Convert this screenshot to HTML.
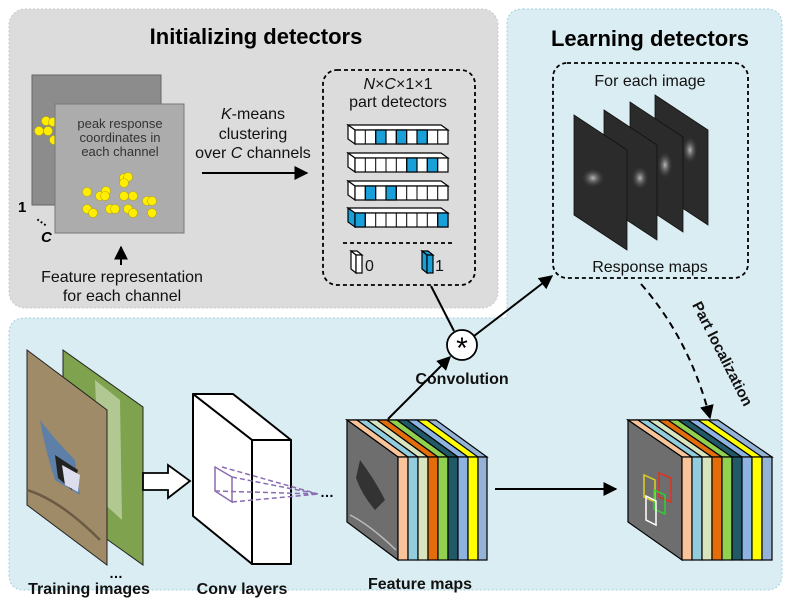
<!DOCTYPE html>
<html><head><meta charset="utf-8"><style>
html,body{margin:0;padding:0;background:#fff;}
svg{display:block;font-family:"Liberation Sans",sans-serif;}
</style></head><body>
<svg width="787" height="605" viewBox="0 0 787 605" xmlns="http://www.w3.org/2000/svg">
<defs>
<marker id="ah" viewBox="0 0 10 10" refX="9" refY="5" markerWidth="7" markerHeight="7" orient="auto"><path d="M0,0 L10,5 L0,10 z" fill="#000"/></marker>
<radialGradient id="glow" cx="0.5" cy="0.5" r="0.5"><stop offset="0" stop-color="#bbb"/><stop offset="1" stop-color="#2a2a2a" stop-opacity="0"/></radialGradient>
</defs>
<!-- grey box -->
<rect x="9" y="9" width="489" height="299" rx="16" fill="#dcdcdc" stroke="#c8c8c8" stroke-dasharray="2,2"/>
<!-- blue L box -->
<path d="M523,9 H766 Q782,9 782,25 V574 Q782,590 766,590 H25 Q9,590 9,574 V334 Q9,318 25,318 H507 V25 Q507,9 523,9 Z" fill="#daedf2" stroke="#9fd0e0" stroke-dasharray="2,2"/>

<text x="256" y="44" font-size="22" font-weight="bold" text-anchor="middle">Initializing detectors</text>
<text x="650" y="46" font-size="22" font-weight="bold" text-anchor="middle">Learning detectors</text>

<!-- channel panels -->
<rect x="32" y="75" width="129" height="130" fill="#8c8c8c" stroke="#666"/>
<g fill="#ffee00" stroke="#b8a800" stroke-width="0.6">
<circle cx="46" cy="121" r="4.5"/><circle cx="53" cy="122" r="4.5"/><circle cx="39" cy="131" r="4.5"/><circle cx="48" cy="131" r="4.5"/><circle cx="54" cy="140" r="4.5"/>
</g>
<rect x="55" y="104" width="129" height="129" fill="#acacac" stroke="#777"/>
<text font-size="13" fill="#333" text-anchor="middle"><tspan x="120" y="128">peak response</tspan><tspan x="120" y="142">coordinates in</tspan><tspan x="120" y="156">each channel</tspan></text>
<g fill="#ffee00" stroke="#b8a800" stroke-width="0.6">
<circle cx="124" cy="178" r="4.5"/><circle cx="128" cy="177" r="4.5"/><circle cx="124" cy="183" r="4.5"/>
<circle cx="87" cy="192" r="4.5"/><circle cx="100" cy="196" r="4.5"/><circle cx="106" cy="191" r="4.5"/><circle cx="105" cy="196" r="4.5"/>
<circle cx="124" cy="196" r="4.5"/><circle cx="133" cy="196" r="4.5"/><circle cx="147" cy="201" r="4.5"/><circle cx="152" cy="201" r="4.5"/>
<circle cx="87" cy="209" r="4.5"/><circle cx="93" cy="213" r="4.5"/><circle cx="110" cy="209" r="4.5"/><circle cx="115" cy="209" r="4.5"/>
<circle cx="128" cy="209" r="4.5"/><circle cx="133" cy="213" r="4.5"/><circle cx="152" cy="213" r="4.5"/>
</g>
<text x="18" y="212" font-size="15" font-weight="bold">1</text>
<text x="36" y="222" font-size="13" font-weight="bold" transform="rotate(35 40 220)">…</text>
<text x="41" y="242" font-size="15" font-weight="bold" font-style="italic">C</text>
<line x1="121" y1="265" x2="121" y2="247" stroke="#000" stroke-width="2" marker-end="url(#ah)"/>
<text font-size="16" text-anchor="middle" fill="#111"><tspan x="122" y="282">Feature representation</tspan><tspan x="122" y="301">for each channel</tspan></text>

<text font-size="16" text-anchor="middle" fill="#111"><tspan x="253" y="119"><tspan font-style="italic">K</tspan>-means</tspan><tspan x="253" y="139">clustering</tspan><tspan x="253" y="158">over <tspan font-style="italic">C</tspan> channels</tspan></text>
<line x1="202" y1="173" x2="307" y2="173" stroke="#000" stroke-width="2" marker-end="url(#ah)"/>

<!-- part detector box -->
<rect x="323" y="70" width="152" height="215" rx="14" fill="none" stroke="#000" stroke-width="1.8" stroke-dasharray="4,3"/>
<text font-size="16" text-anchor="middle" fill="#111"><tspan x="398" y="89"><tspan font-style="italic">N</tspan>×<tspan font-style="italic">C</tspan>×1×1</tspan><tspan x="398" y="107">part detectors</tspan></text>
<g stroke="#000" stroke-width="1.2">
<!-- row 1 y0=130 -->
<polygon points="348,125 441,125 448,130 355,130" fill="#fff"/>
<polygon points="348,125 355,130 355,144 348,139" fill="#fff"/>
<rect x="355" y="130" width="93" height="14" fill="#fff"/>
<rect x="375.7" y="130" width="10.3" height="14" fill="#1aa0d8"/><rect x="396.3" y="130" width="10.3" height="14" fill="#1aa0d8"/><rect x="417" y="130" width="10.3" height="14" fill="#1aa0d8"/>
<!-- row 2 y0=158 -->
<polygon points="348,153 441,153 448,158 355,158" fill="#fff"/>
<polygon points="348,153 355,158 355,172 348,167" fill="#fff"/>
<rect x="355" y="158" width="93" height="14" fill="#fff"/>
<rect x="406.7" y="158" width="10.3" height="14" fill="#1aa0d8"/><rect x="427.3" y="158" width="10.3" height="14" fill="#1aa0d8"/>
<!-- row 3 y0=186 -->
<polygon points="348,181 441,181 448,186 355,186" fill="#fff"/>
<polygon points="348,181 355,186 355,200 348,195" fill="#fff"/>
<rect x="355" y="186" width="93" height="14" fill="#fff"/>
<rect x="365.3" y="186" width="10.3" height="14" fill="#1aa0d8"/><rect x="386" y="186" width="10.3" height="14" fill="#1aa0d8"/>
<!-- row 4 y0=213 -->
<polygon points="348,208 441,208 448,213 355,213" fill="#fff"/>
<polygon points="348,208 355,213 355,227 348,222" fill="#1aa0d8"/>
<rect x="355" y="213" width="93" height="14" fill="#fff"/>
<rect x="355" y="213" width="10.3" height="14" fill="#1aa0d8"/><rect x="437.7" y="213" width="10.3" height="14" fill="#1aa0d8"/>
</g>
<g stroke="#000" stroke-width="1">
<path d="M365.3,130V144M375.7,130V144M386,130V144M396.3,130V144M406.7,130V144M417,130V144M427.3,130V144M437.7,130V144"/>
<path d="M365.3,158V172M375.7,158V172M386,158V172M396.3,158V172M406.7,158V172M417,158V172M427.3,158V172M437.7,158V172"/>
<path d="M365.3,186V200M375.7,186V200M386,186V200M396.3,186V200M406.7,186V200M417,186V200M427.3,186V200M437.7,186V200"/>
<path d="M365.3,213V227M375.7,213V227M386,213V227M396.3,213V227M406.7,213V227M417,213V227M427.3,213V227M437.7,213V227"/>
</g>
<line x1="343" y1="243" x2="453" y2="243" stroke="#000" stroke-width="1.8" stroke-dasharray="4,3"/>
<g stroke="#000" stroke-width="1.2">
<polygon points="351,251 357,251 362,255 356,255" fill="#fff"/><polygon points="351,251 356,255 356,273 351,269" fill="#fff"/><rect x="356" y="255" width="6" height="18" fill="#fff"/>
<polygon points="422,251 428,251 433,255 427,255" fill="#1aa0d8"/><polygon points="422,251 427,255 427,273 422,269" fill="#1aa0d8"/><rect x="427" y="255" width="6" height="18" fill="#1aa0d8"/>
</g>
<text x="365" y="271" font-size="16" fill="#111">0</text>
<text x="435" y="271" font-size="16" fill="#111">1</text>

<!-- learning box -->
<rect x="553" y="63" width="195" height="215" rx="14" fill="none" stroke="#000" stroke-width="1.8" stroke-dasharray="4,3"/>
<text x="650" y="86" font-size="16" text-anchor="middle" fill="#111">For each image</text>
<text x="650" y="272" font-size="16" text-anchor="middle" fill="#111">Response maps</text>
<g stroke="#111" stroke-width="0.8">
<polygon points="655,95 708,130 708,225 655,190" fill="#2b2b2b"/>
<ellipse cx="690" cy="150" rx="8" ry="14" fill="url(#glow)" stroke="none"/>
<polygon points="630,102 683,137 683,232 630,197" fill="#2b2b2b"/>
<ellipse cx="665" cy="165" rx="8" ry="14" fill="url(#glow)" stroke="none"/>
<polygon points="604,110 657,145 657,240 604,205" fill="#2b2b2b"/>
<ellipse cx="640" cy="178" rx="9" ry="12" fill="url(#glow)" stroke="none"/>
<polygon points="574,115 627,150 627,250 574,215" fill="#2b2b2b"/>
<ellipse cx="593" cy="178" rx="12" ry="10" fill="url(#glow)" stroke="none"/>
</g>

<!-- convolution -->
<line x1="431" y1="286" x2="454" y2="331" stroke="#000" stroke-width="2"/>
<circle cx="462" cy="345" r="15" fill="#fff" stroke="#000" stroke-width="1.8"/>
<text x="462" y="358" font-size="30" text-anchor="middle">*</text>
<text x="462" y="384" font-size="16" font-weight="bold" text-anchor="middle" fill="#111">Convolution</text>
<line x1="474" y1="336" x2="552" y2="276" stroke="#000" stroke-width="2" marker-end="url(#ah)"/>
<line x1="388" y1="419" x2="450" y2="357" stroke="#000" stroke-width="2" marker-end="url(#ah)"/>
<path d="M641,284 Q690,340 710,418" fill="none" stroke="#000" stroke-width="2" stroke-dasharray="7,5" marker-end="url(#ah)"/>
<text x="718" y="356" font-size="15" font-weight="bold" text-anchor="middle" transform="rotate(63 718 356)" fill="#111">Part localization</text>

<!-- training images -->
<polygon points="63,350 143,407 143,565 63,508" fill="#7ea24e" stroke="#222"/>
<polygon points="95,380 120,400 122,520 100,500" fill="#c8d8b0" opacity="0.7"/>
<polygon points="27,350 107,410 107,565 27,505" fill="#a08b68" stroke="#222"/>
<path d="M40,420 Q55,440 75,460 L80,495 L55,480 Q45,450 40,420Z" fill="#5d7fa8"/>
<path d="M55,455 L78,470 L72,490 L58,478Z" fill="#222"/>
<path d="M62,465 L80,475 L78,492 L65,485Z" fill="#dde"/>
<path d="M27,490 Q60,500 100,540" fill="none" stroke="#6b5a44" stroke-width="2.5"/>
<text x="109" y="578" font-size="14" font-weight="bold">…</text>
<path d="M143,473 H168 V465 L190,481 L168,498 V490 H143 Z" fill="#fff" stroke="#000" stroke-width="1.8"/>
<text x="89" y="594" font-size="16" font-weight="bold" text-anchor="middle" fill="#111">Training images</text>

<!-- conv layers -->
<g stroke="#000" stroke-width="2" stroke-linejoin="round">
<polygon points="193,394 233,394 291,440 252,440" fill="#fff"/>
<polygon points="193,394 252,440 252,564 193,516" fill="#fff"/>
<rect x="252" y="440" width="39" height="124" fill="#fff"/>
</g>
<g stroke="#8a6cb0" stroke-width="1.5" fill="none">
<polygon points="215,467 232,477 232,502 215,491"/>
<path d="M222,467 L318,494 M232,477 L318,494 M232,502 L318,494 M215,491 L318,494" stroke-dasharray="5,3"/>
</g>
<text x="320" y="497" font-size="14" font-weight="bold">…</text>
<text x="242" y="594" font-size="16" font-weight="bold" text-anchor="middle" fill="#111">Conv layers</text>

<!-- feature maps cube -->
<g stroke="#000" stroke-width="1.2">
<polygon points="347,420 436,420 487,457 398,457" fill="#95b3d7"/>
<polygon points="347,420 357,420 408,457 398,457" fill="#f9c49a"/>
<polygon points="357,420 367,420 418,457 408,457" fill="#93cddd"/>
<polygon points="367,420 377,420 428,457 418,457" fill="#d7e4bd"/>
<polygon points="377,420 387,420 438,457 428,457" fill="#e46c0a"/>
<polygon points="387,420 397,420 448,457 438,457" fill="#92d050"/>
<polygon points="397,420 407,420 458,457 448,457" fill="#215967"/>
<polygon points="407,420 417,420 468,457 458,457" fill="#8db3e2"/>
<polygon points="417,420 427,420 478,457 468,457" fill="#ffff00"/>
<polygon points="347,420 398,457 398,560 347,522" fill="#6e6e6e"/>
<rect x="398" y="457" width="10" height="103" fill="#f9c49a"/>
<rect x="408" y="457" width="10" height="103" fill="#93cddd"/>
<rect x="418" y="457" width="10" height="103" fill="#d7e4bd"/>
<rect x="428" y="457" width="10" height="103" fill="#e46c0a"/>
<rect x="438" y="457" width="10" height="103" fill="#92d050"/>
<rect x="448" y="457" width="10" height="103" fill="#215967"/>
<rect x="458" y="457" width="10" height="103" fill="#8db3e2"/>
<rect x="468" y="457" width="10" height="103" fill="#ffff00"/>
<rect x="478" y="457" width="9" height="103" fill="#95b3d7"/>
</g>
<path d="M360,460 Q375,480 385,500 L375,510 Q362,495 356,478Z" fill="#333"/>
<path d="M350,515 Q370,525 396,550" fill="none" stroke="#bbb" stroke-width="1.5"/>
<text x="420" y="589" font-size="16" font-weight="bold" text-anchor="middle" fill="#111">Feature maps</text>
<line x1="495" y1="489" x2="616" y2="489" stroke="#000" stroke-width="2" marker-end="url(#ah)"/>

<!-- output cube -->
<g stroke="#000" stroke-width="1.2">
<polygon points="628,420 718,420 772,457 682,457" fill="#95b3d7"/>
<polygon points="628,420 638,420 692,457 682,457" fill="#f9c49a"/>
<polygon points="638,420 648,420 702,457 692,457" fill="#93cddd"/>
<polygon points="648,420 658,420 712,457 702,457" fill="#d7e4bd"/>
<polygon points="658,420 668,420 722,457 712,457" fill="#e46c0a"/>
<polygon points="668,420 678,420 732,457 722,457" fill="#92d050"/>
<polygon points="678,420 688,420 742,457 732,457" fill="#215967"/>
<polygon points="688,420 698,420 752,457 742,457" fill="#8db3e2"/>
<polygon points="698,420 708,420 762,457 752,457" fill="#ffff00"/>
<polygon points="628,420 682,457 682,560 628,522" fill="#6e6e6e"/>
<rect x="682" y="457" width="10" height="103" fill="#f9c49a"/>
<rect x="692" y="457" width="10" height="103" fill="#93cddd"/>
<rect x="702" y="457" width="10" height="103" fill="#d7e4bd"/>
<rect x="712" y="457" width="10" height="103" fill="#e46c0a"/>
<rect x="722" y="457" width="10" height="103" fill="#92d050"/>
<rect x="732" y="457" width="10" height="103" fill="#215967"/>
<rect x="742" y="457" width="10" height="103" fill="#8db3e2"/>
<rect x="752" y="457" width="10" height="103" fill="#ffff00"/>
<rect x="762" y="457" width="10" height="103" fill="#95b3d7"/>
</g>
<g fill="none" stroke-width="1.5">
<polygon points="644,475 655,480 655,502 644,497" stroke="#e0d020"/>
<polygon points="659,473 671,478 671,502 659,497" stroke="#e03020"/>
<polygon points="654,490 665,495 665,514 654,509" stroke="#30d030"/>
<polygon points="646,496 656,501 656,525 646,520" stroke="#fff"/>
</g>
</svg>
</body></html>
